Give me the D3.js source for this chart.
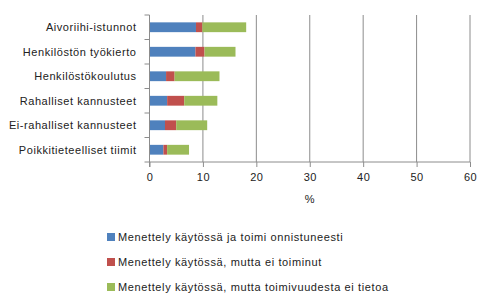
<!DOCTYPE html>
<html>
<head>
<meta charset="utf-8">
<script src="https://cdn.jsdelivr.net/npm/d3@7"></script>
<style>
  body { margin: 0; background: #fff; }
  text { font-family: "Liberation Sans", Arial, sans-serif; fill: #222; }
</style>
</head>
<body>
<div id="chart"></div>
<script>
var svgWidth = 493;
var svgHeight = 304;

// Data
var categories = ["Aivoriihi-istunnot", "Henkilöstön työkierto", "Henkilöstökoulutus",
  "Rahalliset kannusteet", "Ei-rahalliset kannusteet", "Poikkitieteelliset tiimit"];
var seriesNames = ["Menettely käytössä ja toimi onnistuneesti",
  "Menettely käytössä, mutta ei toiminut",
  "Menettely käytössä, mutta toimivuudesta ei tietoa"];
var onnistui = [8.7, 8.6, 3.1, 3.3, 2.9, 2.6];
var eiToiminut = [1.2, 1.7, 1.6, 3.2, 2.1, 0.7];
var eiTietoa = [8.2, 5.8, 8.4, 6.2, 5.8, 4.1];
var xTicks = [0, 10, 20, 30, 40, 50, 60];
var colors = ["#4F81BD", "#C0504D", "#9BBB59"];

var margin = { top: 15, left: 149.5, right: 23, bottom: 142 };
var width = svgWidth - margin.left - margin.right;
var height = svgHeight - margin.top - margin.bottom;

var svg = d3.select("#chart").append("svg")
  .attr("width", svgWidth)
  .attr("height", svgHeight);

var chartGroup = svg.append("g")
  .attr("transform", `translate(${margin.left}, ${margin.top})`);

var rows = categories.map(function(c, i) {
  return { cat: c, a: onnistui[i], b: eiToiminut[i], c: eiTietoa[i] };
});
var stack = d3.stack().keys(["a", "b", "c"])(rows);

var x = d3.scaleLinear().domain([0, 60]).range([0, width]);
var y = d3.scaleBand().domain(categories).range([0, height]).paddingInner(0.6).paddingOuter(0.3);
var yTicks = d3.scaleBand().domain(categories).range([0, height]);

// gridlines
chartGroup.selectAll(".grid")
  .data(xTicks.slice(1))
  .enter().append("line")
  .attr("x1", d => x(d)).attr("x2", d => x(d))
  .attr("y1", 0).attr("y2", height)
  .attr("stroke", "#8c8c8c").attr("stroke-width", 1);

// bars
chartGroup.selectAll(".series")
  .data(stack)
  .enter().append("g")
  .attr("fill", (d, i) => colors[i])
  .selectAll("rect")
  .data(d => d)
  .enter().append("rect")
  .attr("x", d => x(d[0]))
  .attr("width", d => x(d[1]) - x(d[0]))
  .attr("y", d => y(d.data.cat))
  .attr("height", y.bandwidth());

// left axis with ticks on band boundaries
var leftG = chartGroup.append("g");
leftG.append("line")
  .attr("x1", 0).attr("x2", 0).attr("y1", 0).attr("y2", height + 5)
  .attr("stroke", "#8c8c8c");
leftG.selectAll(".tk")
  .data(categories)
  .enter().append("line")
  .attr("x1", -5).attr("x2", 0)
  .attr("y1", d => yTicks(d)).attr("y2", d => yTicks(d))
  .attr("stroke", "#8c8c8c");
leftG.append("line")
  .attr("x1", -5).attr("x2", 0).attr("y1", height).attr("y2", height)
  .attr("stroke", "#8c8c8c");
leftG.selectAll(".lbl")
  .data(categories)
  .enter().append("text")
  .attr("x", -13)
  .attr("y", d => yTicks(d) + yTicks.bandwidth() / 2)
  .attr("dy", "0.35em")
  .attr("text-anchor", "end")
  .attr("font-size", "11px")
  .attr("letter-spacing", "0.55px")
  .text(d => d);

// bottom axis
var bottomAxis = d3.axisBottom(x).tickValues(xTicks).tickSize(5).tickPadding(6);
var bottomG = chartGroup.append("g")
  .attr("transform", `translate(0, ${height})`)
  .call(bottomAxis);
bottomG.select(".domain").attr("stroke", "#8c8c8c").attr("d", `M0,0H${width}`);
bottomG.selectAll(".tick line").attr("stroke", "#8c8c8c");
bottomG.selectAll(".tick text").attr("font-size", "11px").attr("fill", "#222")
  .attr("letter-spacing", "0.5px")
  .style("font-family", "Liberation Sans, Arial, sans-serif");

chartGroup.append("text")
  .attr("x", width / 2)
  .attr("y", height + 41)
  .attr("text-anchor", "middle")
  .attr("font-size", "11px")
  .text("%");

// legend
var legend = svg.append("g").attr("transform", "translate(107, 233)");
var item = legend.selectAll("g")
  .data(seriesNames)
  .enter().append("g")
  .attr("transform", (d, i) => `translate(0, ${i * 25})`);
item.append("rect")
  .attr("width", 8).attr("height", 8)
  .attr("fill", (d, i) => colors[i]);
item.append("text")
  .attr("x", 11).attr("y", 4)
  .attr("dy", "0.35em")
  .attr("font-size", "11px")
  .attr("letter-spacing", "0.62px")
  .text(d => d);
</script>
</body>
</html>
